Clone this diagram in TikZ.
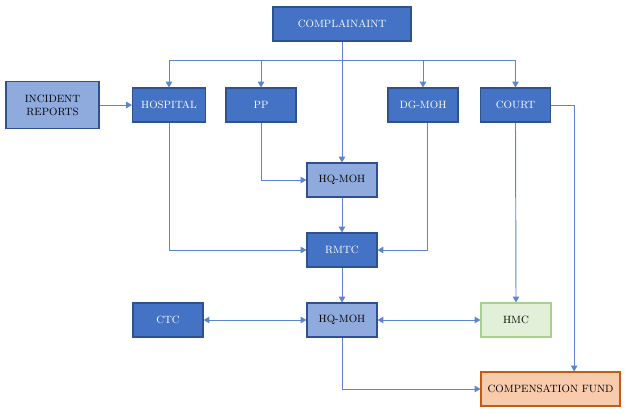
\documentclass[tikz,border=0pt]{standalone}
\usepackage{xcolor}
\definecolor{mhblue}{RGB}{68,114,196}
\definecolor{mhedge}{RGB}{47,82,143}
\definecolor{mhlight}{RGB}{143,170,220}
\definecolor{mhline}{RGB}{91,134,207}
\definecolor{mhgreen}{RGB}{226,240,217}
\definecolor{mhgreenedge}{RGB}{169,209,142}
\definecolor{mhorange}{RGB}{248,203,173}
\definecolor{mhorangeedge}{RGB}{197,90,17}
\usetikzlibrary{arrows.meta,positioning}

\tikzset{
  darkbox/.style={draw=mhedge, fill=mhblue, line width=0.9pt, minimum width=2.1cm, minimum height=1.02cm, align=center, font=\small, text=white},
  lightbox/.style={darkbox, fill=mhlight, text=black},
  link/.style={draw=mhline, line width=0.8pt, -{Triangle[length=5pt,width=5.5pt]}},
  twoway/.style={link, {Triangle[length=5pt,width=5.5pt]}-{Triangle[length=5pt,width=5.5pt]}}
}

\begin{document}
\begin{tikzpicture}[x=0.03cm, y=-0.03cm]
  \useasboundingbox (0,0) rectangle (625,413);

  \node[darkbox, minimum width=4.14cm] (comp) at (342,24) {COMPLAINAINT};
  \node[lightbox, minimum width=2.79cm, minimum height=1.41cm] (inc) at (52.5,105) {INCIDENT\\REPORTS};
  \node[darkbox, minimum width=2.19cm] (hosp) at (169,105) {HOSPITAL};
  \node[darkbox] (pp) at (261,105) {PP};
  \node[darkbox] (dg) at (423,105) {DG-MOH};
  \node[darkbox] (court) at (515.5,105) {COURT};
  \node[lightbox] (hq1) at (342,180) {HQ-MOH};
  \node[darkbox] (rmtc) at (342,250) {RMTC};
  \node[darkbox] (ctc) at (168,320) {CTC};
  \node[lightbox] (hq2) at (342,320) {HQ-MOH};
  \node[lightbox, draw=mhgreenedge, fill=mhgreen] (hmc) at (516,320) {HMC};
  \node[lightbox, draw=mhorangeedge, fill=mhorange, minimum width=4.17cm] (fund) at (550.5,389) {COMPENSATION FUND};

  \coordinate (bus) at (342,60);

  % complainant fans out
  \draw[link] (comp.south) -- (hq1.north);
  \draw[link] (bus) -| (hosp.north);
  \draw[link] (bus) -| (pp.north);
  \draw[link] (bus) -| (dg.north);
  \draw[link] (bus) -| (court.north);

  \draw[link] (inc) -- (hosp);
  \draw[link] (pp.south) |- (hq1.west);
  \draw[link] (hq1) -- (rmtc);
  \draw[link] (hosp.south) |- (rmtc.west);
  \draw[link] ([xshift=0.12cm]dg.south) |- (rmtc.east);
  \draw[link] (rmtc) -- (hq2);

  % bottom row
  \draw[twoway] (ctc) -- (hq2);
  \draw[twoway] (hq2) -- (hmc);
  \draw[link] (court.south) -- (hmc.north);
  \draw[link] (court.east) -| ([xshift=0.71cm]fund.north);
  \draw[link] (hq2.south) |- (fund.west);
\end{tikzpicture}
\end{document}
